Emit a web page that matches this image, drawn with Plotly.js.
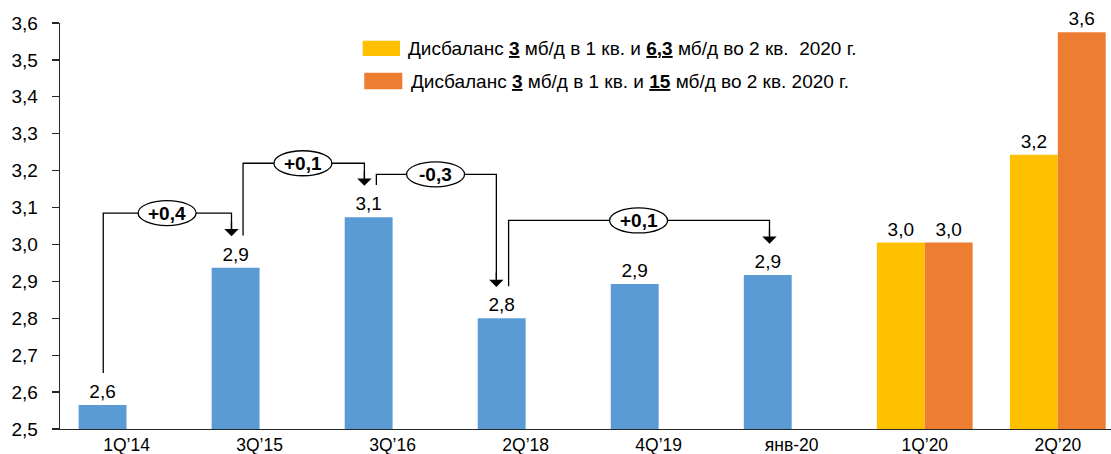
<!DOCTYPE html>
<html>
<head>
<meta charset="utf-8">
<script src="https://cdn.plot.ly/plotly-3.0.1.min.js"></script>
<style>html,body{margin:0;padding:0;background:#fff;}#chart{width:1111px;height:454px;}</style>
</head>
<body>
<div id="chart"></div>
<script>
// ---- data ----
const categories = ['1Q’14', '3Q’15', '3Q’16', '2Q’18', '4Q’19', 'янв-20', '1Q’20', '2Q’20'];
const baseValues = [2.565, 2.937, 3.074, 2.800, 2.893, 2.917, 3.005, 3.243];
const altValues  = [null, null, null, null, null, null, 3.005, 3.575];
const baseIsForecast = [false, false, false, false, false, false, true, true];

// change connectors between bars
const connFromIdx = [0, 1, 2, 3];
const connToIdx   = [1, 2, 3, 5];
const connX0      = [-0.175, 0.876, 1.878, 2.872];
const connX1      = [0.789, 1.788, 2.780, 4.833];
const connLevel   = [3.085, 3.220, 3.190, 3.065];
const connLabelX  = [0.305, 1.326, 2.323, 3.849];
const connLabel   = ['+0,4', '+0,1', '-0,3', '+0,1'];

const legendLabels = [
  'Дисбаланс <b><u>3</u></b> мб/д в 1 кв. и <b><u>6,3</u></b> мб/д во 2 кв.  2020 г.',
  'Дисбаланс <b><u>3</u></b> мб/д в 1 кв. и <b><u>15</u></b> мб/д во 2 кв. 2020 г.'
];

// ---- styles ----
const BLUE = '#5B9BD5', YELLOW = '#FFC000', ORANGE = '#ED7D31';
const FONT = 'Liberation Sans, Arial, sans-serif';
const FS = 19;
const xIdx = categories.map((c, i) => i);

const traces = [
  {
    type: 'bar', x: xIdx, y: baseValues,
    marker: {color: baseIsForecast.map(f => f ? YELLOW : BLUE)},
    texttemplate: '%{y:.1f}', textposition: 'outside', cliponaxis: false,
    textfont: {family: FONT, size: FS, color: '#000'},
    hoverinfo: 'skip', showlegend: false
  },
  {
    type: 'bar', x: xIdx, y: altValues,
    marker: {color: ORANGE},
    texttemplate: '%{y:.1f}', textposition: 'outside', cliponaxis: false,
    textfont: {family: FONT, size: FS, color: '#000'},
    hoverinfo: 'skip', showlegend: false
  }
];

const OFF_START = 0.087, OFF_TIP = 0.085;
const shapes = [];
const annotations = [];
const LINE = {color: '#000', width: 1.3};

connFromIdx.forEach((f, k) => {
  const y0 = baseValues[f] + OFF_START;
  const yt = baseValues[connToIdx[k]] + OFF_TIP;
  shapes.push({
    type: 'path', xref: 'x', yref: 'y', layer: 'above',
    path: `M ${connX0[k]},${y0} L ${connX0[k]},${connLevel[k]} L ${connX1[k]},${connLevel[k]} L ${connX1[k]},${yt + 0.02}`,
    line: LINE
  });
  annotations.push({
    x: connX1[k], y: yt, xref: 'x', yref: 'y', text: '',
    showarrow: true, ax: 0, ay: -16, arrowhead: 1, arrowsize: 1.85, arrowwidth: 1.3,
    arrowcolor: '#000', standoff: 0
  });
});
connFromIdx.forEach((f, k) => {
  shapes.push({
    type: 'circle', xref: 'x', yref: 'y', layer: 'above',
    xsizemode: 'pixel', ysizemode: 'pixel',
    xanchor: connLabelX[k], yanchor: connLevel[k],
    x0: -29, x1: 29, y0: -12.5, y1: 12.5,
    fillcolor: '#fff', line: LINE
  });
  annotations.push({
    x: connLabelX[k], y: connLevel[k], xref: 'x', yref: 'y',
    text: '<b>' + connLabel[k] + '</b>', showarrow: false,
    font: {family: FONT, size: FS, color: '#000'}
  });
});

// legend
const legendColors = [YELLOW, ORANGE];
const legendRects = [[0.288, 0.3235, 0.9187, 0.9564], [0.2895, 0.3257, 0.8367, 0.8776]];
const legendTextPos = [[0.3295, 0.9377], [0.3318, 0.8554]];
legendLabels.forEach((t, k) => {
  const r = legendRects[k];
  shapes.push({type: 'rect', xref: 'paper', yref: 'paper', x0: r[0], x1: r[1], y0: r[2], y1: r[3],
    fillcolor: legendColors[k], line: {width: 0}});
  annotations.push({
    xref: 'paper', yref: 'paper', x: legendTextPos[k][0], y: legendTextPos[k][1],
    xanchor: 'left', yanchor: 'middle', text: t, showarrow: false,
    font: {family: FONT, size: FS, color: '#000'}
  });
});

const layout = {
  width: 1111, height: 454,
  margin: {l: 60, r: 0, t: 23, b: 25},
  paper_bgcolor: '#fff', plot_bgcolor: '#fff',
  separators: ', ',
  barmode: 'group', bargap: 0.28, bargroupgap: 0,
  font: {family: FONT, size: FS, color: '#000'},
  xaxis: {
    type: 'linear', range: [-0.5, 7.4],
    tickmode: 'array', tickvals: xIdx, ticktext: categories,
    showgrid: false, zeroline: false, showline: true, linecolor: '#262626', linewidth: 1.3,
    ticks: '', ticklabelstandoff: 0,
    tickfont: {family: FONT, size: 17.5, color: '#000'}, fixedrange: true
  },
  yaxis: {
    range: [2.5, 3.6], dtick: 0.1, tick0: 2.5, tickformat: '.1f',
    showgrid: false, zeroline: false, showline: true, linecolor: '#262626', linewidth: 1.3,
    ticks: 'outside', ticklen: 7, tickcolor: '#262626', tickwidth: 1.3,
    ticklabelstandoff: 10,
    tickfont: {family: FONT, size: FS, color: '#000'}, fixedrange: true
  },
  shapes: shapes,
  annotations: annotations,
  showlegend: false
};

Plotly.newPlot('chart', traces, layout, {displayModeBar: false, staticPlot: true});
</script>
</body>
</html>
